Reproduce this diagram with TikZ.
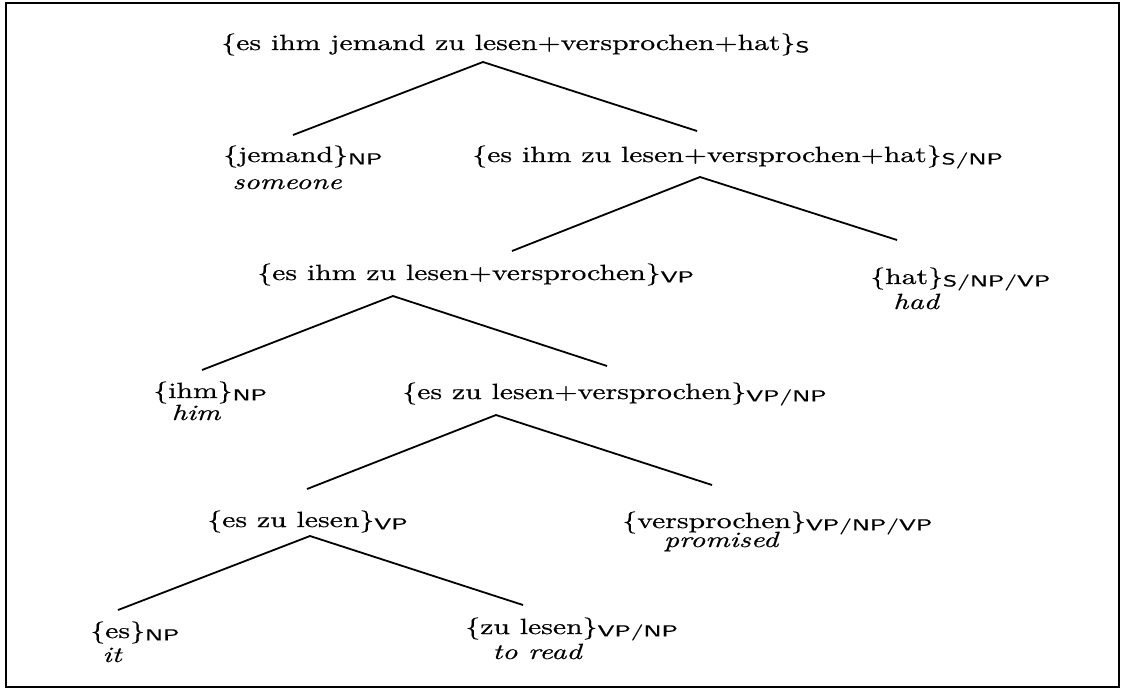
\documentclass[tikz,border=0pt]{standalone}
\usepackage{fontspec}
\setmainfont{Latin Modern Roman}[FakeStretch=1.35,FakeBold=0.6]
\setsansfont{Latin Modern Sans}[FakeStretch=1.5,FakeBold=0.4]
\newcommand{\ctg}[2]{\{#1\}\raisebox{-1.2pt}{\sffamily\fontsize{8}{9}\selectfont #2}}
\begin{document}
\begin{tikzpicture}[x=0.5pt,y=-0.5pt,
  lbl/.style={anchor=base west,inner sep=0pt,font=\fontsize{11}{13}\selectfont},
  gloss/.style={anchor=base,inner sep=0pt,font=\fontsize{11}{13}\selectfont\itshape},
  branch/.style={line width=0.9pt},
  framebox/.style={line width=1.1pt}]
\useasboundingbox (0,0) rectangle (1128,690);
\draw[framebox] (6,3) rectangle (1119,687);

% labels
\node[lbl] (root) at (221,50) {\ctg{es ihm jemand zu lesen+versprochen+hat}{S}};
\node[lbl] (jem) at (223,162) {\ctg{jemand}{NP}};
\node[gloss] (jemg) at (287,189) {someone};
\node[lbl] (snp) at (472,162) {\ctg{es ihm zu lesen+versprochen+hat}{S/NP}};
\node[lbl] (vp1) at (257,280) {\ctg{es ihm zu lesen+versprochen}{VP}};
\node[lbl] (hat) at (870,284) {\ctg{hat}{S/NP/VP}};
\node[gloss] (hatg) at (916,309) {had};
\node[lbl] (ihm) at (153,398) {\ctg{ihm}{NP}};
\node[gloss] (ihmg) at (196,420) {him};
\node[lbl] (vpnp) at (402,399) {\ctg{es zu lesen+versprochen}{VP/NP}};
\node[lbl] (vp2) at (207,527) {\ctg{es zu lesen}{VP}};
\node[lbl] (vers) at (622,528) {\ctg{versprochen}{VP/NP/VP}};
\node[gloss] (versg) at (721,547) {promised};
\node[lbl] (es) at (90,638) {\ctg{es}{NP}};
\node[gloss] (esg) at (112,662) {it};
\node[lbl] (zul) at (465,634) {\ctg{zu lesen}{VP/NP}};
\node[gloss] (zulg) at (537,659) {to read};

% branch points
\coordinate (a1) at (483,62);
\coordinate (l1) at (293,135);
\coordinate (r1) at (697,131);
\coordinate (a2) at (700,177);
\coordinate (l2) at (512,251);
\coordinate (r2) at (897,240);
\coordinate (a3) at (393,296);
\coordinate (l3) at (202,370);
\coordinate (r3) at (607,366);
\coordinate (a4) at (496,415);
\coordinate (l4) at (307,489);
\coordinate (r4) at (712,485);
\coordinate (a5) at (310,536);
\coordinate (l5) at (118,610);
\coordinate (r5) at (523,605);

\draw[branch] (l1) -- (a1) -- (r1);
\draw[branch] (l2) -- (a2) -- (r2);
\draw[branch] (l3) -- (a3) -- (r3);
\draw[branch] (l4) -- (a4) -- (r4);
\draw[branch] (l5) -- (a5) -- (r5);
\end{tikzpicture}
\end{document}
